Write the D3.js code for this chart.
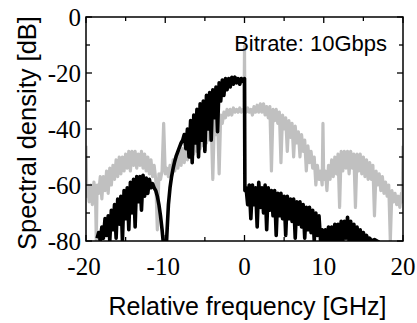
<!DOCTYPE html>
<html>
<head>
<meta charset="utf-8">
<script src="https://cdn.jsdelivr.net/npm/d3@7"></script>
<style>
	body { margin: 0; background: #fff; }
	svg { display: block; }
</style>
</head>
<body>
<svg id="chart" width="417" height="323"></svg>
<script>
// axis ticks
const xMajorTicks = [-20, -10, 0, 10, 20];
const xMinorTicks = [-15, -5, 5, 15];
const yMajorTicks = [0, -20, -40, -60, -80];
const yMinorTicks = [-10, -30, -50, -70];

// double sideband spectrum (grey), [GHz, dB]
const dsbSpectrum = [
	[-20.0, -46], [-19.9, -64], [-19.8, -60], [-19.6, -66], [-19.4, -60], [-19.2, -67], [-19.0, -59], [-18.8, -64],
	[-18.7, -80], [-18.6, -60], [-18.4, -63], [-18.2, -57], [-18.0, -65], [-17.8, -57], [-17.6, -62], [-17.4, -55],
	[-17.2, -63], [-17.0, -54], [-16.8, -60], [-16.6, -53], [-16.4, -58], [-16.2, -51], [-16.0, -57], [-15.8, -50],
	[-15.6, -56], [-15.4, -50], [-15.2, -55], [-15.0, -49], [-14.8, -54], [-14.6, -48], [-14.4, -55], [-14.2, -48],
	[-14.0, -53], [-13.8, -48], [-13.6, -54], [-13.4, -49], [-13.2, -53], [-13.0, -48], [-12.8, -54], [-12.6, -49],
	[-12.4, -55], [-12.2, -50], [-12.0, -56], [-11.8, -51], [-11.6, -57], [-11.4, -53], [-11.2, -58], [-11.0, -76],
	[-10.8, -56], [-10.6, -58], [-10.4, -55], [-10.2, -38], [-10.0, -56], [-9.8, -54], [-9.6, -57], [-9.4, -53],
	[-9.2, -56], [-9.0, -51], [-8.8, -55], [-8.6, -50], [-8.4, -54], [-8.2, -48], [-8.0, -53], [-7.8, -47],
	[-7.6, -52], [-7.4, -46], [-7.2, -51], [-7.0, -45], [-6.8, -50], [-6.6, -44], [-6.4, -49], [-6.2, -43],
	[-6.0, -48], [-5.8, -42], [-5.6, -47], [-5.4, -41], [-5.2, -46], [-5.0, -40], [-4.8, -45], [-4.6, -39],
	[-4.4, -44], [-4.2, -38], [-4.0, -58], [-3.8, -37], [-3.6, -42], [-3.4, -36], [-3.2, -56], [-3.0, -35],
	[-2.8, -38], [-2.6, -34], [-2.4, -36], [-2.2, -33], [-2.0, -35], [-1.8, -33], [-1.6, -35], [-1.4, -32.5],
	[-1.2, -34], [-1.0, -33], [-0.8, -34], [-0.6, -32.5], [-0.4, -34], [-0.2, -33], [-0.05, -33], [0.0, -10.5],
	[0.05, -33], [0.2, -34], [0.4, -32.5], [0.6, -34], [0.8, -33], [1.0, -35], [1.2, -32], [1.4, -34],
	[1.6, -31.5], [1.8, -34], [2.0, -31], [2.2, -34], [2.4, -31], [2.6, -35], [2.8, -32], [3.0, -36],
	[3.2, -32], [3.4, -55], [3.6, -33], [3.8, -37], [4.0, -33], [4.2, -38], [4.4, -34], [4.6, -52],
	[4.8, -35], [5.0, -40], [5.2, -36], [5.4, -48], [5.6, -37], [5.8, -43], [6.0, -38], [6.2, -50],
	[6.4, -39], [6.6, -45], [6.8, -41], [7.0, -50], [7.2, -42], [7.4, -48], [7.6, -44], [7.8, -55],
	[8.0, -46], [8.2, -52], [8.4, -48], [8.6, -54], [8.8, -50], [9.0, -60], [9.2, -53], [9.4, -58],
	[9.6, -55], [9.8, -60], [9.9, -38], [10.0, -58], [10.2, -55], [10.4, -62], [10.6, -53], [10.8, -58],
	[11.0, -51], [11.2, -57], [11.4, -50], [11.6, -56], [11.8, -49], [12.0, -68], [12.2, -48], [12.4, -55],
	[12.6, -48], [12.8, -54], [13.0, -48], [13.2, -56], [13.4, -48], [13.6, -54], [13.8, -49], [14.0, -68],
	[14.2, -49], [14.4, -55], [14.6, -49], [14.8, -56], [15.0, -50], [15.2, -57], [15.4, -51], [15.6, -58],
	[15.8, -52], [16.0, -58], [16.2, -53], [16.4, -71], [16.6, -55], [16.8, -60], [17.0, -56], [17.2, -62],
	[17.4, -57], [17.6, -63], [17.8, -59], [18.0, -64], [18.2, -60], [18.4, -80], [18.6, -62], [18.8, -66],
	[19.0, -63], [19.2, -67], [19.4, -64], [19.6, -68], [19.8, -63], [19.9, -66], [20.0, -46],
];

// single sideband spectrum (black), [GHz, dB]
const ssbSpectrum = [
	[-18.6, -79], [-18.4, -77], [-18.2, -80], [-18.0, -75], [-17.8, -79], [-17.6, -72], [-17.4, -78], [-17.2, -71],
	[-17.0, -80], [-16.8, -69], [-16.6, -76], [-16.4, -67], [-16.2, -79], [-16.0, -65], [-15.8, -74], [-15.6, -64],
	[-15.4, -80], [-15.2, -62], [-15.0, -72], [-14.8, -61], [-14.6, -76], [-14.4, -59], [-14.2, -70], [-14.0, -58],
	[-13.8, -75], [-13.6, -57], [-13.4, -66], [-13.2, -57], [-13.0, -69], [-12.8, -56.5], [-12.6, -64], [-12.4, -57.5],
	[-12.2, -63], [-12.0, -58], [-11.8, -61], [-11.6, -59.5], [-11.4, -61], [-11.2, -62], [-11.0, -64], [-10.8, -67],
	[-10.6, -71], [-10.4, -76], [-10.2, -82], [-10.0, -90], [-9.8, -78], [-9.6, -67], [-9.4, -61], [-9.2, -57],
	[-9.0, -54], [-8.8, -51.5], [-8.6, -49.5], [-8.4, -48], [-8.2, -46.5], [-8.0, -45], [-7.8, -44], [-7.6, -42],
	[-7.4, -47], [-7.2, -40], [-7.0, -50], [-6.8, -37], [-6.6, -52], [-6.4, -35], [-6.2, -45], [-6.0, -33],
	[-5.8, -50], [-5.6, -31], [-5.4, -44], [-5.2, -30], [-5.0, -48], [-4.8, -28], [-4.6, -40], [-4.4, -27],
	[-4.2, -44], [-4.0, -26], [-3.8, -36], [-3.6, -25], [-3.4, -41], [-3.2, -23.5], [-3.0, -30], [-2.8, -22.5],
	[-2.6, -28], [-2.4, -22], [-2.2, -26], [-2.0, -22], [-1.8, -25], [-1.6, -21.5], [-1.4, -24], [-1.2, -21.5],
	[-1.0, -23.5], [-0.8, -22], [-0.6, -24], [-0.4, -22], [-0.2, -23], [0.0, -22], [0.05, -62], [0.2, -61],
	[0.4, -67], [0.6, -60], [0.8, -72], [1.0, -60], [1.2, -67], [1.4, -61], [1.6, -75], [1.8, -59],
	[2.0, -68], [2.2, -61], [2.4, -70], [2.6, -60], [2.8, -76], [3.0, -61], [3.2, -69], [3.4, -62],
	[3.6, -71], [3.8, -62], [4.0, -78], [4.2, -63], [4.4, -71], [4.6, -63], [4.8, -72], [5.0, -64],
	[5.2, -78], [5.4, -64], [5.6, -72], [5.8, -65], [6.0, -73], [6.2, -65], [6.4, -79], [6.6, -66],
	[6.8, -74], [7.0, -66], [7.2, -75], [7.4, -67], [7.6, -79], [7.8, -68], [8.0, -76], [8.2, -68],
	[8.4, -77], [8.6, -69], [8.8, -80], [9.0, -70], [9.2, -78], [9.4, -71], [9.6, -80], [9.8, -76],
	[10.0, -80], [10.2, -76], [10.4, -80], [10.6, -75], [10.8, -80], [11.0, -75], [11.2, -80], [11.4, -74],
	[11.6, -80], [11.8, -74], [12.0, -80], [12.2, -73], [12.4, -80], [12.6, -73], [12.8, -79], [13.0, -71.5],
	[13.2, -80], [13.4, -73], [13.6, -80], [13.8, -74], [14.0, -80], [14.2, -75], [14.4, -80], [14.6, -76],
	[14.8, -80], [15.0, -77], [15.2, -80], [15.4, -78], [15.6, -80], [15.8, -79], [16.0, -80], [16.4, -79.5],
	[17.0, -80.5],
];

const bitrateLabel = 'Bitrate: 10Gbps';

const serif = '"Liberation Serif", "Times New Roman", "DejaVu Serif", serif';
const sans = '"Liberation Sans", Arial, sans-serif';

const margin = { top: 17, right: 14, bottom: 82, left: 86 };
const width = 417;
const height = 323;
const plotW = width - margin.left - margin.right;
const plotH = height - margin.top - margin.bottom;

const svg = d3.select('#chart');

const x = d3.scaleLinear().domain([-20, 20]).range([0, plotW]);
const y = d3.scaleLinear().domain([-80, 0]).range([plotH, 0]);

svg.append('defs')
	.append('clipPath')
	.attr('id', 'plotClip')
	.append('rect')
	.attr('width', plotW)
	.attr('height', plotH);

const g = svg.append('g')
	.attr('transform', `translate(${margin.left},${margin.top})`);

const line = d3.line()
	.x((d) => x(d[0]))
	.y((d) => y(d[1]));

const plot = g.append('g').attr('clip-path', 'url(#plotClip)');
plot.append('path')
	.attr('d', line(dsbSpectrum))
	.attr('fill', 'none')
	.attr('stroke', '#c0c0c0')
	.attr('stroke-width', 3.2)
	.attr('stroke-linejoin', 'round');
plot.append('path')
	.attr('d', line(ssbSpectrum))
	.attr('fill', 'none')
	.attr('stroke', '#000')
	.attr('stroke-width', 3.6)
	.attr('stroke-linejoin', 'round');

// inward ticks on all four sides
const ticks = g.append('g').attr('stroke', '#000').attr('stroke-width', 1.3);
[[xMajorTicks, 6], [xMinorTicks, 4]].forEach(([vals, len]) => {
	vals.forEach((v) => {
		ticks.append('line').attr('x1', x(v)).attr('x2', x(v)).attr('y1', plotH).attr('y2', plotH - len);
		ticks.append('line').attr('x1', x(v)).attr('x2', x(v)).attr('y1', 0).attr('y2', len);
	});
});
[[yMajorTicks, 6], [yMinorTicks, 4]].forEach(([vals, len]) => {
	vals.forEach((v) => {
		ticks.append('line').attr('x1', 0).attr('x2', len).attr('y1', y(v)).attr('y2', y(v));
		ticks.append('line').attr('x1', plotW).attr('x2', plotW - len).attr('y1', y(v)).attr('y2', y(v));
	});
});

g.append('rect')
	.attr('width', plotW)
	.attr('height', plotH)
	.attr('fill', 'none')
	.attr('stroke', '#000')
	.attr('stroke-width', 1.5);

g.selectAll('.x-label').data(xMajorTicks).enter().append('text')
	.attr('class', 'x-label')
	.attr('font-family', serif)
	.attr('font-size', 25)
	.attr('x', (d) => x(d) - (d < 0 ? 2 : 0))
	.attr('y', plotH + 34)
	.attr('text-anchor', 'middle')
	.text((d) => d);

g.selectAll('.y-label').data(yMajorTicks).enter().append('text')
	.attr('class', 'y-label')
	.attr('font-family', serif)
	.attr('font-size', 25)
	.attr('x', -5)
	.attr('y', (d) => y(d) + 8.5)
	.attr('text-anchor', 'end')
	.text((d) => d);

g.append('text')
	.attr('font-family', sans)
	.attr('font-size', 25)
	.attr('x', plotW / 2 + 3)
	.attr('y', plotH + 74)
	.attr('text-anchor', 'middle')
	.text('Relative frequency [GHz]');

g.append('text')
	.attr('font-family', sans)
	.attr('font-size', 25.5)
	.attr('transform', `translate(${-50},${plotH / 2 + 4}) rotate(-90)`)
	.attr('text-anchor', 'middle')
	.text('Spectral density [dB]');

g.append('text')
	.attr('font-family', sans)
	.attr('font-size', 22)
	.attr('x', plotW - 16)
	.attr('y', 34)
	.attr('text-anchor', 'end')
	.text(bitrateLabel);
</script>
</body>
</html>
